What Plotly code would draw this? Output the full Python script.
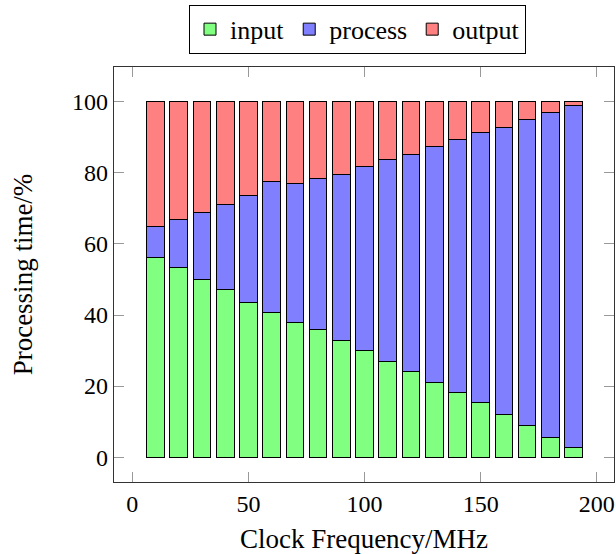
import plotly.graph_objects as go

freq = [10, 20, 30, 40, 50, 60, 70, 80, 90, 100, 110, 120, 130, 140, 150, 160, 170, 180, 190]
input_pct = [56.2, 53.4, 50.1, 47.1, 43.5, 40.7, 37.9, 35.9, 32.9, 30.0, 27.0, 24.0, 21.1, 18.2, 15.3, 11.9, 9.0, 5.6, 2.6]
process_pct = [8.8, 13.4, 18.8, 23.9, 30.0, 36.9, 39.1, 42.6, 46.7, 51.7, 56.7, 61.2, 66.4, 71.2, 76.1, 80.9, 86.1, 91.4, 96.3]
output_pct = [35.0, 33.2, 31.1, 29.0, 26.5, 22.4, 23.0, 21.5, 20.4, 18.3, 16.3, 14.8, 12.5, 10.6, 8.6, 7.2, 4.9, 3.0, 1.1]

x_ticks = [0, 50, 100, 150, 200]
y_ticks = [0, 20, 40, 60, 80, 100]

series = [
    ("input", input_pct, "#80FF80"),
    ("process", process_pct, "#8080FF"),
    ("output", output_pct, "#FF8080"),
]

FONT = "Liberation Serif"

fig = go.Figure()
for name, vals, color in series:
    fig.add_trace(go.Bar(
        x=freq, y=vals, name=name, width=7.6,
        marker=dict(color=color, line=dict(color="black", width=1)),
    ))

fig.update_layout(
    barmode="stack",
    width=616, height=554,
    margin=dict(l=114, r=2, t=67, b=72, autoexpand=False),
    paper_bgcolor="white", plot_bgcolor="white",
    font=dict(family=FONT, size=24, color="black"),
    showlegend=True,
    legend=dict(
        orientation="h", x=0.487, xanchor="center", y=1.15, yanchor="top",
        bordercolor="black", borderwidth=1, bgcolor="white",
        font=dict(family=FONT, size=26), traceorder="normal",
        itemwidth=30, tracegroupgap=0,
    ),
    xaxis=dict(
        range=[-7.9, 207.4], tickvals=x_ticks, ticks="inside", ticklen=10,
        tickcolor="#999", showline=True, linecolor="#333", linewidth=1.3,
        mirror="ticks", showgrid=False, zeroline=False, automargin=False,
        title=dict(text="Clock Frequency/MHz", font=dict(family=FONT, size=27), standoff=24),
        tickfont=dict(family=FONT, size=24),
    ),
    yaxis=dict(
        range=[-7.0, 109.8], tickvals=y_ticks, ticks="inside", ticklen=10,
        tickcolor="#999", showline=True, linecolor="#333", linewidth=1.3,
        mirror="ticks", showgrid=False, zeroline=False, automargin=False,
        title=dict(text="Processing time/%", font=dict(family=FONT, size=27), standoff=31),
        tickfont=dict(family=FONT, size=24),
    ),
)

fig.write_html(
    "out.html",
    config={"displayModeBar": False},
    post_script="document.body.style.margin='0';document.body.style.padding='0';",
)
